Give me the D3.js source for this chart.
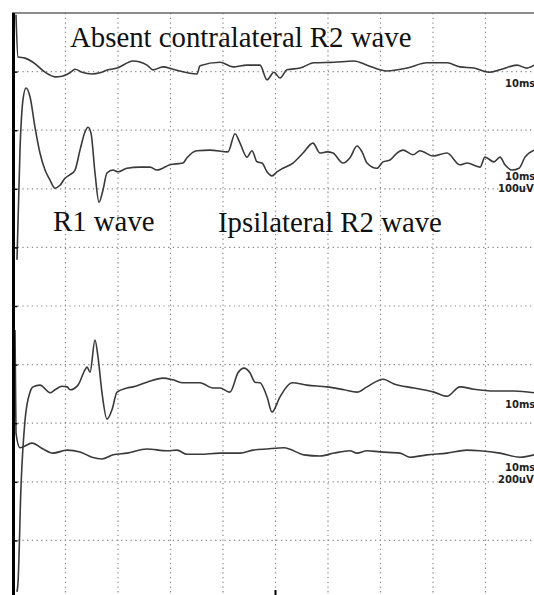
<!DOCTYPE html>
<html><head><meta charset="utf-8">
<script src="https://cdn.jsdelivr.net/npm/d3@7"></script>
<style>html,body{margin:0;padding:0;background:#fff;overflow:hidden}</style>
</head><body>
<script>
// time in ms (10 ms / division), amplitude in grid divisions from top
const trace1T = [0.57,0.95,2.29,3.81,6.10,8.0,9.33,10.86,11.81,13.14,15.05,16.57,18.10,19.81,22.86,25.52,26.67,28.57,30.48,35.05,35.62,39.43,41.90,44.57,47.05,48.38,49.71,50.86,52.19,54.67,57.33,61.14,64.95,67.43,69.90,71.24,75.05,78.86,82.67,85.14,87.81,90.67,92.76,96.0,97.90,99.24];
const trace1V = [0.03,0.75,0.77,0.84,1.01,1.09,1.08,1.02,0.96,1.01,1.04,1.02,0.97,0.94,0.82,0.89,0.97,0.92,0.96,1.04,0.90,0.84,0.92,0.89,0.89,1.14,1.01,1.11,0.97,0.94,0.85,0.84,0.82,0.89,0.97,0.99,0.94,0.85,0.85,0.92,0.94,1.01,0.97,0.89,0.94,0.89];

const trace2T = [0.76,1.33,1.90,2.48,3.24,4.19,5.14,6.10,7.05,8.0,8.95,9.90,10.86,11.81,12.76,13.71,14.29,14.86,15.62,16.38,17.14,17.90,19.05,20.0,21.71,24.19,26.10,27.43,29.90,32.38,33.14,35.05,37.52,40.95,42.29,43.24,44.57,45.52,46.48,47.43,48.38,49.33,50.29,51.43,53.33,55.24,57.14,58.48,59.81,60.95,62.86,64.19,65.52,66.48,67.43,69.33,70.48,71.81,73.14,74.29,76.19,77.52,80.0,82.67,85.14,86.48,88.95,89.90,91.62,92.76,93.71,95.05,96.38,97.52,99.24];
const trace2V = [4.21,2.34,1.48,1.28,1.43,1.95,2.39,2.68,2.85,2.99,2.94,2.82,2.76,2.68,2.34,2.03,1.95,2.05,2.73,3.23,3.02,2.73,2.68,2.71,2.65,2.63,2.63,2.68,2.59,2.56,2.47,2.35,2.34,2.37,2.06,2.22,2.46,2.35,2.54,2.56,2.71,2.78,2.71,2.65,2.56,2.39,2.22,2.39,2.37,2.39,2.56,2.47,2.27,2.37,2.56,2.65,2.54,2.51,2.39,2.34,2.42,2.35,2.44,2.39,2.59,2.56,2.63,2.46,2.54,2.46,2.59,2.68,2.65,2.46,2.34];

const trace3T = [0.76,0.95,1.52,2.29,3.24,3.81,5.14,5.71,7.05,8.0,9.33,10.29,10.86,12.38,13.71,14.10,14.67,15.62,16.19,16.95,17.90,18.86,19.81,21.71,22.86,25.52,28.57,30.48,32.38,35.62,38.10,39.43,41.33,42.86,44.0,45.14,46.10,47.05,48.38,49.33,50.86,53.14,56.0,59.81,63.05,65.52,67.43,70.48,72.57,76.38,80.19,82.67,85.14,87.81,91.62,95.43,99.24];
const trace3V = [9.88,9.73,8.09,6.95,6.47,6.38,6.35,6.38,6.48,6.43,6.37,6.38,6.43,6.35,6.09,6.04,6.13,5.58,5.87,6.48,6.93,6.77,6.47,6.40,6.38,6.30,6.23,6.26,6.31,6.31,6.40,6.40,6.47,6.14,6.06,6.14,6.30,6.31,6.55,6.81,6.55,6.31,6.35,6.38,6.43,6.47,6.38,6.25,6.33,6.40,6.47,6.54,6.38,6.42,6.45,6.45,6.48];

const trace4T = [0.38,0.57,1.33,3.62,5.71,7.62,10.29,12.76,15.05,16.95,19.05,21.71,25.52,29.33,31.24,33.14,35.62,39.43,43.24,45.71,48.38,51.62,55.43,58.48,61.14,64.19,65.52,67.43,69.90,73.71,75.62,78.86,82.67,86.48,88.95,92.76,96.57,99.24];
const trace4V = [5.41,7.17,7.42,7.34,7.44,7.51,7.46,7.49,7.58,7.61,7.54,7.51,7.44,7.47,7.46,7.53,7.53,7.51,7.51,7.46,7.44,7.42,7.54,7.56,7.51,7.47,7.51,7.47,7.49,7.51,7.58,7.54,7.51,7.46,7.47,7.51,7.58,7.54];

const annotations = ["Absent contralateral R2 wave", "R1 wave", "Ipsilateral R2 wave"];
const scaleLabels = [["10ms"], ["10ms","100uV"], ["10ms"], ["10ms","200uV"]];
const gridX = [10,20,30,40,50,60,70,80,90];
const gridY = [1,2,3,4,5,6,7,8,9];

const W = 534, H = 595;
const svg = d3.select("body").append("svg").attr("width", W).attr("height", H)
  .style("display","block").style("background","#fff");

const x = d3.scaleLinear().domain([0,100]).range([13,538]);
const y = d3.scaleLinear().domain([0,10]).range([13,599]);

// dotted grid
const grid = svg.append("g");
grid.selectAll("line.v").data(gridX).join("line")
  .attr("x1", d=>x(d)).attr("x2", d=>x(d)).attr("y1", y(0)).attr("y2", H)
  .attr("stroke","#8a8a8a").attr("stroke-width",1.2).attr("stroke-dasharray","1.3,3.4");
grid.selectAll("line.h").data(gridY).join("line")
  .attr("x1", x(0)).attr("x2", W).attr("y1", d=>y(d)).attr("y2", d=>y(d))
  .attr("stroke","#8a8a8a").attr("stroke-width",1.2).attr("stroke-dasharray","1.3,3.4");

// top border
svg.append("line").attr("x1", 12).attr("x2", W).attr("y1", y(0)).attr("y2", y(0))
  .attr("stroke","#666").attr("stroke-width",1.5);

// traces
const line = d3.line().x(d=>x(d[0])).y(d=>y(d[1])).curve(d3.curveMonotoneX);
const traces = [[trace1T,trace1V],[trace2T,trace2V],[trace3T,trace3V],[trace4T,trace4V]];
svg.append("g").selectAll("path").data(traces).join("path")
  .attr("d", d => line(d3.zip(d[0], d[1])))
  .attr("fill","none").attr("stroke","#3a3a3a").attr("stroke-width",1.6)
  .attr("stroke-linejoin","round");

// left axis
const axis = d3.axisLeft(y).tickValues(gridY).tickSizeInner(-4).tickSizeOuter(0).tickFormat("");
const ag = svg.append("g").attr("transform", `translate(${x(0)+0.5},0)`).call(axis);
ag.select(".domain").attr("stroke","#000").attr("stroke-width",3).attr("d", `M0,${y(0)}V${H}`);
ag.selectAll(".tick line").attr("stroke","#000").attr("stroke-width",1.5);

// bottom tick
svg.append("line").attr("x1", x(50)).attr("x2", x(50)).attr("y1", H-5).attr("y2", H)
  .attr("stroke","#000").attr("stroke-width",2);

// annotations
const ann = svg.append("g").attr("font-family","'Liberation Serif','Times New Roman',serif")
  .attr("font-size","28.8px").attr("fill","#111");
const annPos = [[70,47],[53,231],[218,232]];
ann.selectAll("text").data(annotations).join("text")
  .attr("x",(d,i)=>annPos[i][0]).attr("y",(d,i)=>annPos[i][1]).text(d=>d);

// scale labels (clipped at the right edge, as in the source)
const lab = svg.append("g").attr("font-family","'DejaVu Sans',sans-serif")
  .attr("font-weight","bold").attr("font-size","10px").attr("fill","#222");
const labBase = [87,180,408,471];
scaleLabels.forEach((arr,i)=>{
  arr.forEach((t,j)=>{
    lab.append("text").attr("x", j===0 ? 505 : 498).attr("y", labBase[i] + j*11.5).text(t);
  });
});
</script>
</body></html>
